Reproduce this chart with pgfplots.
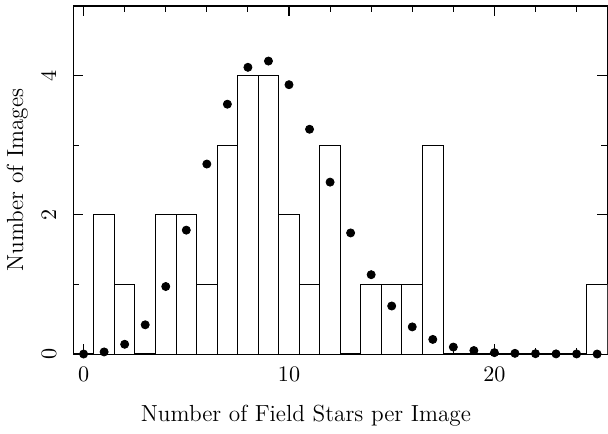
\documentclass[border=0pt]{standalone}
\usepackage{pgfplots}
\pgfplotsset{compat=1.18}

% histogram of field stars per image, with Poisson expectation
\pgfplotstableread{
x  n
0  0
1  2
2  1
3  0
4  2
5  2
6  1
7  3
8  4
9  4
10 2
11 1
12 3
13 0
14 1
15 1
16 1
17 3
18 0
19 0
20 0
21 0
22 0
23 0
24 0
25 1
}\counts

\pgfplotstableread{
x  p
0  0.00
1  0.03
2  0.14
3  0.42
4  0.97
5  1.78
6  2.73
7  3.59
8  4.12
9  4.21
10 3.87
11 3.23
12 2.47
13 1.74
14 1.14
15 0.69
16 0.39
17 0.21
18 0.10
19 0.05
20 0.02
21 0.01
22 0.005
23 0.002
24 0.001
25 0.0
}\expected

\begin{document}
\begin{tikzpicture}
\begin{axis}[
  name=ax,
  scale only axis,
  width=264pt, height=172pt,
  xmin=-0.5, xmax=25.5,
  ymin=0, ymax=5,
  xtick={0,10,20},
  ytick={0,2,4},
  minor xtick={2,4,6,8,12,14,16,18,22,24},
  minor ytick={1,3,5},
  tick align=inside,
  major tick length=5pt,
  minor tick length=3pt,
  every tick/.style={black, line width=0.5pt},
  axis line style={line width=0.6pt},
  yticklabel style={xshift=-5pt, rotate=90, anchor=south},
  xticklabel style={yshift=-3pt},
  ticklabel style={font=\fontsize{10.5}{12}\selectfont},
  xlabel={Number of Field Stars per Image},
  ylabel={Number of Images},
  label style={font=\fontsize{11.5}{13}\selectfont},
  xlabel style={yshift=-5pt, xshift=-17pt},
  ylabel style={yshift=0pt},
  clip=true,
]
\addplot[ybar, bar width=1, draw=black, fill=white, line width=0.5pt] table[x=x, y=n] {\counts};
\addplot[only marks, mark=*, mark size=2pt, black] table[x=x, y=p] {\expected};
\end{axis}
\path ([yshift=3pt]ax.north) -- ([yshift=3pt]ax.north);
\end{tikzpicture}
\end{document}
